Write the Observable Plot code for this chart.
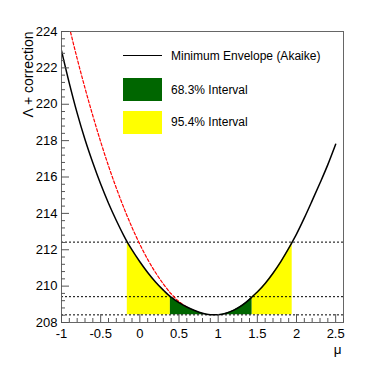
<!DOCTYPE html>
<html>
<head>
<meta charset="utf-8">
<script src="https://cdn.jsdelivr.net/npm/d3@7"></script>
<script src="https://cdn.jsdelivr.net/npm/@observablehq/plot@0.6"></script>
<style>
  html, body { margin: 0; padding: 0; background: #fff; }
  #wrap { position: relative; width: 382px; height: 367px; font-family: "Liberation Sans", Arial, Helvetica, sans-serif; }
  #wrap svg { display: block; }
  g[aria-label$="axis tick"] path { stroke: #555; }
  .lg { position: absolute; }
  .lgtext { position: absolute; font-size: 12px; line-height: 14px; color: #000; white-space: nowrap; }
</style>
</head>
<body>
<div id="wrap"></div>
<script>
// ---- data ----
const muValues = [-1.0, -0.9, -0.8, -0.7, -0.6, -0.5, -0.4, -0.3, -0.2, -0.16, -0.1, 0.0, 0.1, 0.2, 0.3, 0.39, 0.4, 0.5, 0.6, 0.7, 0.8, 0.9, 0.95, 1.0, 1.1, 1.2, 1.3, 1.4, 1.435, 1.5, 1.6, 1.7, 1.8, 1.9, 1.945, 2.0, 2.1, 2.2, 2.3, 2.4, 2.5];
const envelopeValues = [222.95, 221.15, 219.51, 218.06, 216.78, 215.61, 214.56, 213.61, 212.74, 212.42, 211.99, 211.34, 210.75, 210.23, 209.78, 209.42, 209.39, 209.09, 208.85, 208.66, 208.51, 208.43, 208.42, 208.43, 208.51, 208.68, 208.93, 209.27, 209.42, 209.68, 210.15, 210.71, 211.35, 212.07, 212.42, 212.86, 213.75, 214.70, 215.67, 216.68, 217.80];

const redMu = [-0.9, -0.8, -0.7, -0.6, -0.5, -0.4, -0.3, -0.2, -0.1, 0.0, 0.1, 0.2, 0.3, 0.4, 0.5, 0.6];
const redValues = [224.24, 222.51, 220.89, 219.37, 217.94, 216.61, 215.39, 214.26, 213.23, 212.30, 211.47, 210.75, 210.12, 209.58, 209.15, 208.85];

const levels = [208.42, 209.42, 212.42];       // minimum, +1, +4
const minimumValue = 208.42;
const interval68 = [0.39, 1.435];
const interval95 = [-0.16, 1.945];

const xMajorTicks = [-1, -0.5, 0, 0.5, 1, 1.5, 2, 2.5];
const xTickLabels = ["-1", "-0.5", "0", "0.5", "1", "1.5", "2", "2.5"];
const xMinorTicks = d3.range(-10, 27).map(i => i / 10).filter(v => Math.abs(v * 2 - Math.round(v * 2)) > 1e-6);
const yMajorTicks = [208, 210, 212, 214, 216, 218, 220, 222, 224];
const yTickLabels = ["208", "210", "212", "214", "216", "218", "220", "222", "224"];
const yMinorTicks = d3.range(0, 41).map(i => 208 + i * 0.4).filter(v => Math.abs(v / 2 - Math.round(v / 2)) > 1e-6);

const legendLabels = ["Minimum Envelope (Akaike)", "68.3% Interval", "95.4% Interval"];
const xLabel = "μ";
const yLabel = "Λ + correction";

// ---- build tables ----
const envelope = muValues.map((x, i) => ({x, v: envelopeValues[i]}));
const red = redMu.map((x, i) => ({x, v: redValues[i]}));
const inRange = (lo, hi) => envelope.filter(d => d.x >= lo - 1e-9 && d.x <= hi + 1e-9);
const yellowLeft = inRange(interval95[0], interval68[0]);
const green = inRange(interval68[0], interval68[1]);
const yellowRight = inRange(interval68[1], interval95[1]);

const GREEN = "#006600", YELLOW = "#ffff00";
const curve = "monotone-x";

const chart = Plot.plot({
  width: 382,
  height: 367,
  marginLeft: 61,
  marginRight: 39,
  marginTop: 31,
  marginBottom: 45,
  x: {domain: [-1, 2.6]},
  y: {domain: [208, 224]},
  style: {fontFamily: "'Liberation Sans', Arial, Helvetica, sans-serif", fontSize: "13px", color: "#000", background: "#fff"},
  marks: [
    Plot.areaY(yellowLeft, {x: "x", y1: minimumValue, y2: "v", fill: YELLOW, curve}),
    Plot.areaY(green, {x: "x", y1: minimumValue, y2: "v", fill: GREEN, curve}),
    Plot.areaY(yellowRight, {x: "x", y1: minimumValue, y2: "v", fill: YELLOW, curve}),
    Plot.ruleY(levels, {y: d => d, stroke: "#000", strokeWidth: 1, strokeDasharray: "2,2"}),
    Plot.line(red, {x: "x", y: "v", stroke: "#ff0000", strokeWidth: 1.2, strokeDasharray: "3,2", curve, clip: true}),
    Plot.line(envelope, {x: "x", y: "v", stroke: "#000", strokeWidth: 1.5, curve, clip: true}),
    Plot.frame({stroke: "#666", strokeWidth: 1}),
    Plot.axisX({anchor: "bottom", ticks: xMajorTicks, tickSize: -8, tickPadding: 14, tickFormat: d => xTickLabels[xMajorTicks.indexOf(d)], label: null, fontSize: 13}),
    Plot.axisX({anchor: "bottom", ticks: xMinorTicks, tickSize: -4, tickFormat: () => "", label: null}),
    Plot.axisY({anchor: "left", ticks: yMajorTicks, tickSize: -8, tickPadding: 12, tickFormat: d => yTickLabels[yMajorTicks.indexOf(d)], label: null, fontSize: 13}),
    Plot.axisY({anchor: "left", ticks: yMinorTicks, tickSize: -4, tickFormat: () => "", label: null}),
    Plot.text([yLabel], {frameAnchor: "top-left", text: d => d, rotate: -90, textAnchor: "end", dx: -38, fontSize: 14}),
    Plot.text([xLabel], {frameAnchor: "bottom-right", text: d => d, textAnchor: "end", dx: -2, dy: 31, fontSize: 13.5})
  ]
});

const wrap = document.getElementById("wrap");
wrap.appendChild(chart);

// legend (inside frame, no border)
function add(html) { wrap.insertAdjacentHTML("beforeend", html); }
add(`<div class="lg" style="left:123px;top:55px;width:39px;height:0;border-top:1.5px solid #000"></div>`);
add(`<div class="lgtext" style="left:171px;top:49px">${legendLabels[0]}</div>`);
add(`<div class="lg" style="left:123px;top:78px;width:39px;height:23px;background:${GREEN}"></div>`);
add(`<div class="lgtext" style="left:171px;top:83px">${legendLabels[1]}</div>`);
add(`<div class="lg" style="left:123px;top:111px;width:39px;height:23px;background:${YELLOW}"></div>`);
add(`<div class="lgtext" style="left:171px;top:115px">${legendLabels[2]}</div>`);
</script>
</body>
</html>
